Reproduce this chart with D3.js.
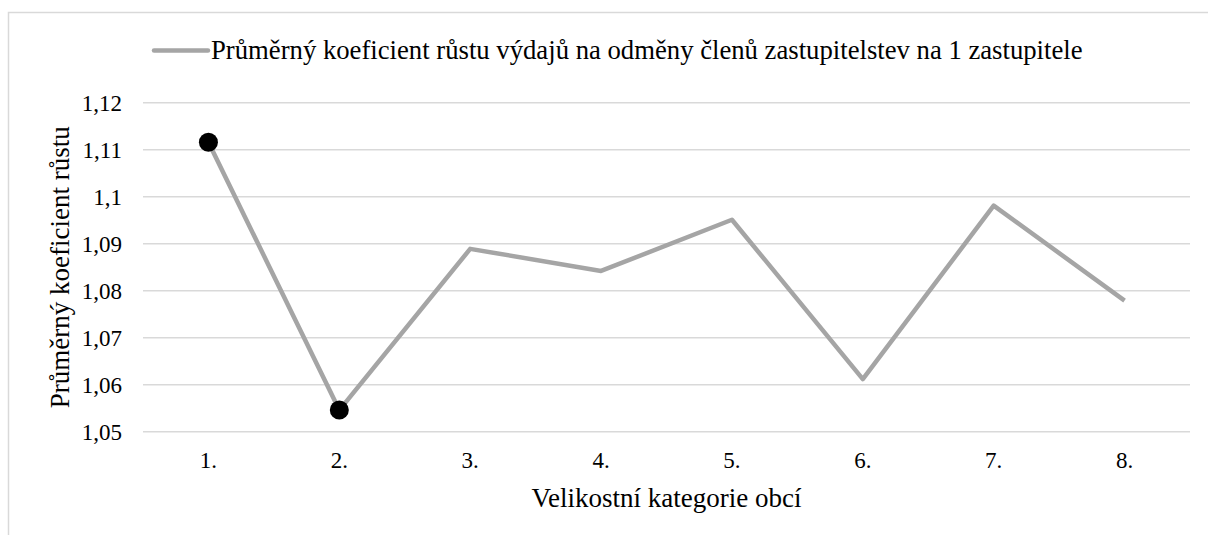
<!DOCTYPE html>
<html>
<head>
<meta charset="utf-8">
<script src="https://cdn.jsdelivr.net/npm/d3@7"></script>
</head>
<body style="margin:0">
<div chart></div>
<script>
const categories = ["1.", "2.", "3.", "4.", "5.", "6.", "7.", "8."];
const values = [1.1116, 1.0546, 1.0889, 1.0842, 1.0951, 1.0612, 1.0981, 1.0779];
const markedIdx = [0, 1]; // extremes highlighted with black dots
const yTicks = [1.05, 1.06, 1.07, 1.08, 1.09, 1.1, 1.11, 1.12];
const seriesName = "Průměrný koeficient růstu výdajů na odměny členů zastupitelstev na 1 zastupitele";
const xTitle = "Velikostní kategorie obcí";
const yTitle = "Průměrný koeficient růstu";

const width = 1208, height = 535;
const margin = { top: 102.7, right: 18, bottom: 103.3, left: 143 };

const svg = d3.select("[chart]").append("svg")
  .attr("width", width)
  .attr("height", height);

// chart frame
svg.append("rect")
  .attr("x", 8.5).attr("y", 12.5)
  .attr("width", width + 10).attr("height", height + 10)
  .attr("fill", "none")
  .attr("stroke", "#d9d9d9")
  .attr("stroke-width", 1.5);

const x = d3.scaleBand()
  .domain(categories)
  .range([margin.left, width - margin.right]);

const y = d3.scaleLinear()
  .domain([1.05, 1.12])
  .range([height - margin.bottom, margin.top]);

const fmt = (v) => d3.format(".2~f")(v).replace(".", ",");

const label = (sel, size) => sel
  .style("font-family", '"Liberation Serif"')
  .attr("font-size", size)
  .attr("fill", "#000");

// gridlines
svg.append("g")
  .selectAll("line")
  .data(yTicks)
  .join("line")
  .attr("x1", margin.left)
  .attr("x2", width - margin.right)
  .attr("y1", (d) => y(d))
  .attr("y2", (d) => y(d))
  .attr("stroke", "#d9d9d9")
  .attr("stroke-width", 1.5);

// y tick labels
svg.append("g")
  .selectAll("text")
  .data(yTicks)
  .join("text")
  .attr("x", 122)
  .attr("y", (d) => y(d) + 8)
  .attr("text-anchor", "end")
  .call(label, 23)
  .text(fmt);

// x tick labels
svg.append("g")
  .selectAll("text")
  .data(categories)
  .join("text")
  .attr("x", (d) => x(d) + x.bandwidth() / 2)
  .attr("y", 468)
  .attr("text-anchor", "middle")
  .call(label, 23)
  .text((d) => d);

// axis titles
svg.append("text")
  .attr("x", (margin.left + width - margin.right) / 2)
  .attr("y", 507)
  .attr("text-anchor", "middle")
  .call(label, 27)
  .text(xTitle);

svg.append("text")
  .attr("transform", `translate(69,${(margin.top + height - margin.bottom) / 2}) rotate(-90)`)
  .attr("text-anchor", "middle")
  .call(label, 27)
  .text(yTitle);

// series line
const line = d3.line()
  .x((d, i) => x(categories[i]) + x.bandwidth() / 2)
  .y((d) => y(d));

svg.append("path")
  .datum(values)
  .attr("d", line)
  .attr("fill", "none")
  .attr("stroke", "#a5a5a5")
  .attr("stroke-width", 4.5)
  .attr("stroke-linejoin", "round");

svg.append("g")
  .selectAll("circle")
  .data(markedIdx)
  .join("circle")
  .attr("cx", (i) => x(categories[i]) + x.bandwidth() / 2)
  .attr("cy", (i) => y(values[i]))
  .attr("r", 9.5)
  .attr("fill", "#000");

// legend
const legend = svg.append("g").attr("transform", "translate(154,50.5)");
legend.append("line")
  .attr("x1", 0).attr("x2", 54)
  .attr("stroke", "#a5a5a5")
  .attr("stroke-width", 4.5)
  .attr("stroke-linecap", "round");
legend.append("text")
  .attr("x", 57)
  .attr("y", 8)
  .call(label, 26.7)
  .text(seriesName);
</script>
</body>
</html>
